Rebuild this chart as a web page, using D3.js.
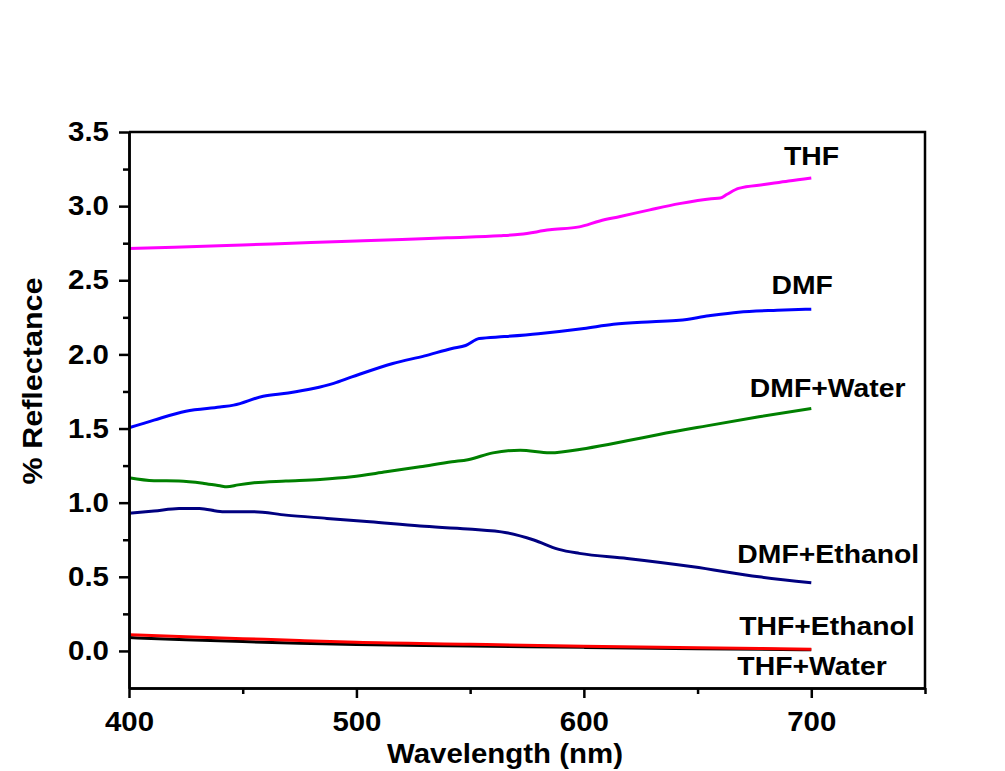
<!DOCTYPE html>
<html>
<head>
<meta charset="utf-8">
<script src="https://cdn.jsdelivr.net/npm/d3@7"></script>
<style>
    body { margin: 0; background: #fff; }
    text { font-family: "Liberation Sans", Arial, sans-serif; font-weight: bold; fill: #000; }
</style>
</head>
<body>
<div id="chart"></div>
<script>
// values, [wavelength (nm), % reflectance]
const thf = [[400,2.715],[420,2.722],[450,2.738],[480,2.755],[500,2.765],[520,2.775],[540,2.787],[563,2.80],[572,2.81],
    [585,2.84],[598,2.86],[607,2.90],[616,2.93],[629,2.975],[642,3.017],[656,3.05],[660,3.055],[663,3.08],[668,3.12],
    [680,3.147],[690,3.17],[700,3.19]];
const dmf = [[400,1.505],[411,1.557],[425,1.617],[440,1.645],[446,1.658],[459,1.718],[470,1.74],[481,1.77],[490,1.805],
    [498,1.848],[516,1.939],[530,1.99],[542,2.04],[548,2.06],[554,2.107],[565,2.12],[580,2.14],[600,2.175],[613,2.203],
    [630,2.22],[642,2.23],[655,2.26],[668,2.285],[685,2.298],[700,2.305]];
const dmfWater = [[400,1.168],[411,1.148],[422,1.146],[433,1.13],[440,1.114],[443,1.107],[448,1.12],[455,1.134],
    [469,1.146],[484,1.157],[498,1.175],[513,1.208],[528,1.242],[542,1.276],[549,1.29],[560,1.336],[572,1.354],
    [585,1.336],[601,1.366],[619,1.417],[633,1.46],[654,1.518],[677,1.579],[700,1.635]];
const dmfEthanol = [[400,0.928],[411,0.943],[422,0.961],[431,0.961],[441,0.939],[455,0.939],[469,0.916],[487,0.894],
    [506,0.871],[528,0.842],[549,0.822],[566,0.797],[578,0.748],[589,0.685],[598,0.658],[619,0.624],[648,0.568],
    [677,0.50],[700,0.46]];
const thfEthanol = [[400,0.11],[425,0.095],[450,0.083],[475,0.07],[500,0.058],[550,0.045],[600,0.032],[650,0.022],[700,0.012]];
const thfWater = [[400,0.09],[425,0.075],[450,0.063],[475,0.052],[500,0.043],[550,0.034],[600,0.024],[650,0.015],[700,0.008]];

const xTicks = [400, 500, 600, 700];
const xMinorTicks = [450, 550, 650, 750];
const yTicks = [0, 0.5, 1.0, 1.5, 2.0, 2.5, 3.0, 3.5];
const yMinorTicks = [0.25, 0.75, 1.25, 1.75, 2.25, 2.75, 3.25];

// drawn in this order, red over black at the bottom
const series = [
    {name: "THF", values: thf, color: "#ff00ff"},
    {name: "DMF", values: dmf, color: "#0000ff"},
    {name: "DMF+Water", values: dmfWater, color: "#008000"},
    {name: "DMF+Ethanol", values: dmfEthanol, color: "#000080"},
    {name: "THF+Water", values: thfWater, color: "#000000"},
    {name: "THF+Ethanol", values: thfEthanol, color: "#ff0000"}
];

// label anchors in data units (start of text, baseline)
const labels = [
    {text: "THF", w: 688, v: 3.28},
    {text: "DMF", w: 682.5, v: 2.41},
    {text: "DMF+Water", w: 673, v: 1.715},
    {text: "DMF+Ethanol", w: 667.5, v: 0.595},
    {text: "THF+Ethanol", w: 668.3, v: 0.108},
    {text: "THF+Water", w: 667.5, v: -0.162}
];

const width = 1005, height = 771;
const margins = {top: 132, right: 80, bottom: 83, left: 129};
const innerW = width - margins.left - margins.right,
    innerH = height - margins.top - margins.bottom;
// the original export has slightly wide lettering
const textStretch = 1.09;

const svg = d3.select("#chart").append("svg")
    .attr("width", width)
    .attr("height", height);
const g = svg.append("g")
    .attr("transform", `translate(${margins.left}, ${margins.top})`);

const x = d3.scaleLinear().domain([400, 750]).range([0, innerW]);
const y = d3.scaleLinear().domain([-0.25, 3.5]).range([innerH, 0]);

// curves
const line = d3.line()
    .x(d => x(d[0]))
    .y(d => y(d[1]))
    .curve(d3.curveMonotoneX);

g.selectAll(".curve")
    .data(series).enter()
    .append("path")
    .attr("class", "curve")
    .attr("d", d => line(d.values))
    .attr("fill", "none")
    .attr("stroke", d => d.color)
    .attr("stroke-width", 3)
    .attr("stroke-linejoin", "round");

// frame (top and right)
g.append("path")
    .attr("d", `M0,0H${innerW}V${innerH}`)
    .attr("fill", "none")
    .attr("stroke", "#000")
    .attr("stroke-width", 2.5);

// axes
function styleAxis (sel) {
    sel.selectAll("path, line").attr("stroke", "#000").attr("stroke-width", 2.5);
    sel.selectAll("text").attr("font-size", 27).attr("font-family", null);
}

g.append("g")
    .attr("transform", `translate(0, ${innerH})`)
    .call(d3.axisBottom(x).tickValues(xMinorTicks).tickSize(6).tickSizeOuter(0).tickFormat(""))
    .call(styleAxis);
g.append("g")
    .attr("transform", `translate(0, ${innerH})`)
    .call(d3.axisBottom(x).tickValues(xTicks).tickSize(10).tickSizeOuter(0).tickPadding(14).tickFormat(d3.format("d")))
    .call(styleAxis);

g.append("g")
    .call(d3.axisLeft(y).tickValues(yMinorTicks).tickSize(6).tickSizeOuter(0).tickFormat(""))
    .call(styleAxis);
g.append("g")
    .call(d3.axisLeft(y).tickValues(yTicks).tickSize(10).tickSizeOuter(0).tickPadding(10).tickFormat(d3.format(".1f")))
    .call(styleAxis);

// axis titles
svg.append("text")
    .attr("x", 505)
    .attr("y", 763)
    .attr("text-anchor", "middle")
    .attr("font-size", 27)
    .text("Wavelength (nm)");

svg.append("text")
    .attr("transform", "translate(42, 381) rotate(-90)")
    .attr("text-anchor", "middle")
    .attr("font-size", 28)
    .text("% Reflectance");

// curve labels
g.selectAll(".label")
    .data(labels).enter()
    .append("text")
    .attr("class", "label")
    .attr("x", d => x(d.w))
    .attr("y", d => y(d.v))
    .attr("font-size", 26)
    .text(d => d.text);

// widen every text a little
svg.selectAll("text").each(function () {
    const len = this.getComputedTextLength();
    if (len > 0) {
        d3.select(this)
            .attr("textLength", len * textStretch)
            .attr("lengthAdjust", "spacingAndGlyphs");
    }
});
</script>
</body>
</html>
